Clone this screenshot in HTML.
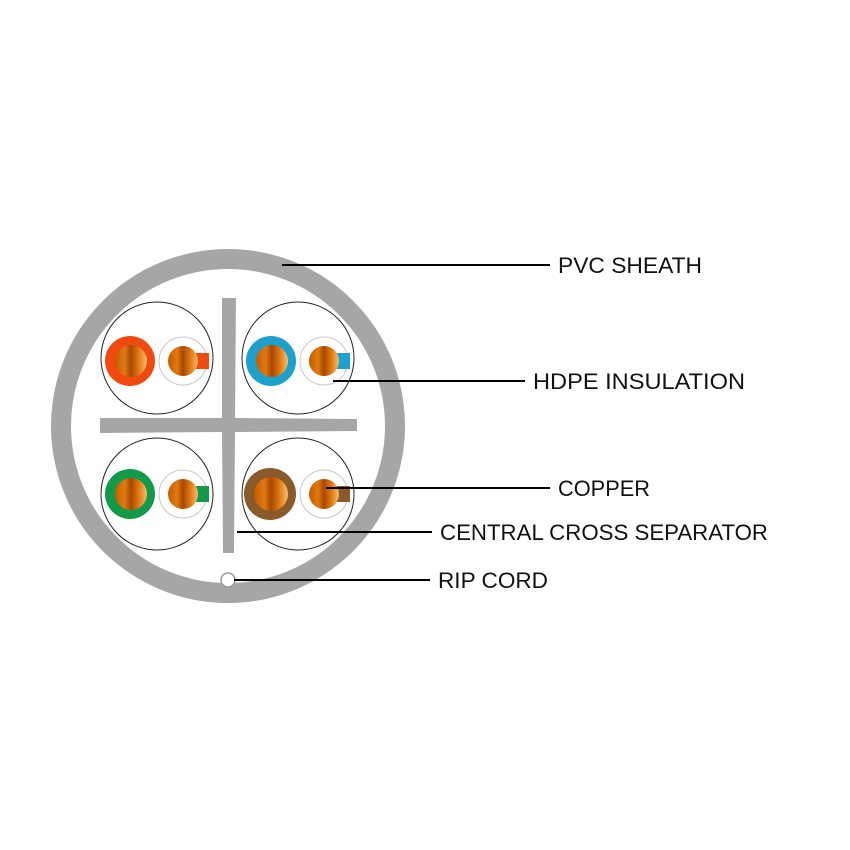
<!DOCTYPE html>
<html><head><style>body{margin:0;background:#fff}svg{display:block}</style></head><body>
<svg width="850" height="850" xmlns="http://www.w3.org/2000/svg">
<defs>
<linearGradient id="cu" x1="0" x2="1" y1="0" y2="0">
<stop offset="0" stop-color="#c65a00"/><stop offset="0.3" stop-color="#e07a10"/><stop offset="0.5" stop-color="#a84800"/><stop offset="0.75" stop-color="#e27a12"/><stop offset="1" stop-color="#f6c070"/>
</linearGradient>
</defs>
<rect width="850" height="850" fill="#fff"/>
<circle cx="228" cy="426" r="167" fill="none" stroke="#a6a6a6" stroke-width="20"/>
<!-- cross -->
<polygon points="222,298 236,298 235,418 357,419 357,431 235,432 234,553 223,553 222,432 100,433 100,418 222,418" fill="#a6a6a6"/>
<g fill="none" stroke="#222" stroke-width="1">
<circle cx="157" cy="358" r="56"/><circle cx="298" cy="358" r="56"/>
<circle cx="157" cy="494" r="56"/><circle cx="298" cy="494" r="56"/>
</g>
<!-- pairs -->
<g>
<circle cx="130" cy="361" r="25" fill="#f04a10"/>
<circle cx="183" cy="361" r="24" fill="#fff" stroke="#c8c8c8"/>
<rect x="196" y="353" width="13" height="16" fill="#f04a10"/>
<circle cx="183" cy="361" r="15" fill="url(#cu)"/>
<circle cx="131" cy="361" r="16" fill="url(#cu)"/>

<circle cx="271" cy="361" r="25" fill="#1ea0cc"/>
<circle cx="324" cy="361" r="24" fill="#fff" stroke="#c8c8c8"/>
<rect x="337" y="353" width="13" height="16" fill="#1ea0cc"/>
<circle cx="324" cy="361" r="15" fill="url(#cu)"/>
<circle cx="272" cy="361" r="16" fill="url(#cu)"/>

<circle cx="130" cy="494" r="25" fill="#129a48"/>
<circle cx="183" cy="494" r="24" fill="#fff" stroke="#c8c8c8"/>
<rect x="196" y="486" width="13" height="16" fill="#129a48"/>
<circle cx="183" cy="494" r="15" fill="url(#cu)"/>
<circle cx="131" cy="494" r="16" fill="url(#cu)"/>

<circle cx="270" cy="494" r="26" fill="#8a5a2a"/>
<circle cx="324" cy="494" r="24" fill="#fff" stroke="#c8c8c8"/>
<rect x="337" y="486" width="13" height="16" fill="#8a5a2a"/>
<circle cx="324" cy="494" r="15" fill="url(#cu)"/>
<circle cx="271" cy="494" r="17" fill="url(#cu)"/>
</g>
<circle cx="228" cy="580" r="7" fill="#fff" stroke="#999" stroke-width="1.5"/>
<g stroke="#000" stroke-width="2">
<line x1="282" y1="265" x2="550" y2="265"/>
<line x1="333" y1="381" x2="525" y2="381"/>
<line x1="326" y1="488" x2="550" y2="488"/>
<line x1="237" y1="532" x2="432" y2="532"/>
<line x1="234" y1="580" x2="430" y2="580"/>
</g>
<g font-family="Liberation Sans, sans-serif" font-size="22" fill="#111">
<text x="558" y="273" textLength="144" lengthAdjust="spacingAndGlyphs">PVC SHEATH</text>
<text x="533" y="389" textLength="212" lengthAdjust="spacingAndGlyphs">HDPE INSULATION</text>
<text x="558" y="496" textLength="92" lengthAdjust="spacingAndGlyphs">COPPER</text>
<text x="440" y="540" textLength="328" lengthAdjust="spacingAndGlyphs">CENTRAL CROSS SEPARATOR</text>
<text x="438" y="588" textLength="110" lengthAdjust="spacingAndGlyphs">RIP CORD</text>
</g>
</svg>
</body></html>
